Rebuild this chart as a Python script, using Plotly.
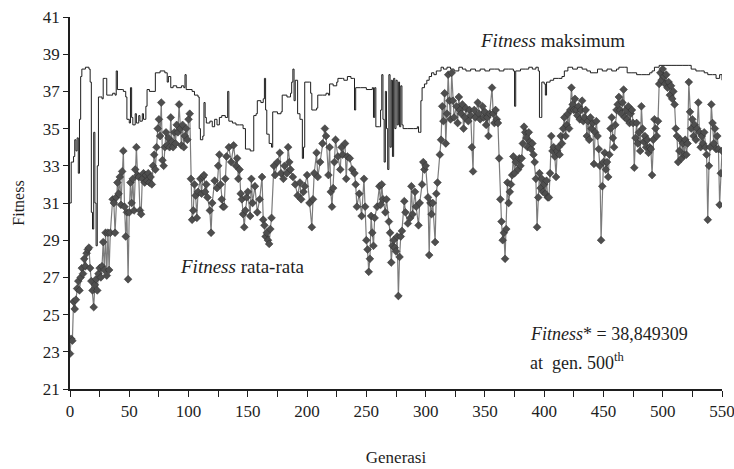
import plotly.graph_objects as go

# Generation numbers and fitness values (average fitness, with markers)
avg_gen = [
    0, 1, 2, 3, 4, 5, 6, 7, 8, 9,
    10, 11, 12, 13, 14, 15, 16, 17, 18, 19,
    20, 21, 22, 23, 24, 25, 26, 27, 28, 29,
    30, 31, 32, 33, 34, 36, 37, 38, 39, 40,
    41, 42, 43, 44, 45, 46, 47, 48, 49, 50,
    51, 52, 53, 54, 55, 56, 57, 58, 59, 60,
    61, 62, 63, 64, 65, 66, 67, 68, 69, 70,
    71, 72, 73, 74, 75, 76, 77, 78, 79, 80,
    81, 82, 83, 84, 85, 86, 87, 88, 89, 90,
    91, 92, 93, 94, 95, 96, 97, 98, 99, 100,
    101, 102, 103, 104, 105, 106, 107, 108, 110, 111,
    112, 113, 114, 115, 116, 118, 119, 120, 122, 124,
    125, 126, 127, 128, 129, 130, 131, 132, 134, 136,
    138, 140, 141, 142, 143, 144, 145, 146, 147, 148,
    149, 150, 152, 153, 154, 156, 158, 160, 162, 163,
    164, 165, 166, 167, 168, 169, 170, 172, 173, 175,
    177, 178, 180, 181, 183, 184, 185, 186, 188, 190,
    192, 194, 195, 197, 198, 200, 202, 204, 205, 206,
    208, 209, 211, 213, 215, 216, 218, 219, 220, 221,
    222, 223, 224, 226, 228, 229, 230, 232, 233, 234,
    236, 238, 240, 241, 242, 244, 246, 248, 249, 250,
    251, 252, 253, 254, 255, 256, 257, 259, 261, 262,
    263, 264, 266, 267, 269, 270, 271, 272, 273, 274,
    275, 276, 277, 278, 279, 280, 282, 283, 285, 287,
    288, 289, 291, 292, 294, 295, 297, 298, 299, 300,
    302, 303, 304, 305, 306, 308, 309, 310, 312, 313,
    314, 315, 316, 317, 318, 319, 320, 321, 322, 323,
    324, 326, 327, 328, 329, 330, 331, 332, 333, 334,
    336, 337, 338, 339, 340, 341, 342, 344, 345, 346,
    348, 349, 350, 351, 352, 353, 354, 356, 357, 358,
    359, 360, 361, 362, 363, 364, 365, 366, 367, 368,
    369, 370, 371, 372, 373, 374, 375, 376, 378, 379,
    380, 381, 382, 383, 384, 385, 386, 387, 388, 389,
    390, 391, 392, 393, 394, 395, 396, 397, 398, 399,
    400, 401, 402, 403, 404, 405, 406, 407, 408, 409,
    410, 411, 412, 413, 414, 415, 416, 417, 418, 419,
    420, 421, 422, 423, 424, 425, 426, 427, 428, 429,
    430, 431, 432, 433, 434, 435, 436, 437, 438, 439,
    440, 441, 442, 443, 444, 445, 446, 447, 448, 449,
    450, 451, 452, 453, 454, 455, 456, 457, 458, 459,
    460, 461, 462, 463, 464, 465, 466, 467, 468, 469,
    470, 471, 472, 473, 474, 475, 476, 477, 478, 479,
    480, 481, 482, 483, 484, 485, 486, 487, 488, 489,
    490, 491, 492, 493, 494, 495, 496, 497, 498, 499,
    500, 501, 502, 503, 504, 505, 506, 507, 508, 509,
    510, 511, 512, 513, 514, 515, 516, 517, 518, 519,
    520, 521, 522, 523, 524, 525, 526, 527, 528, 529,
    530, 531, 532, 533, 534, 535, 536, 537, 538, 539,
    540, 541, 542, 543, 544, 545, 546, 547, 548, 549, 550,
]
avg_fit = [
    22.9, 23.7, 23.6, 25.7, 25.3, 25.8, 26.4, 26.8, 26.3, 27.0,
    27.5, 27.2, 28.0, 27.6, 28.3, 28.5, 28.6, 27.5, 26.8, 26.3,
    25.4, 26.6, 26.9, 26.3, 27.2, 27.5, 27.0, 27.6, 28.9, 27.4,
    29.4, 27.1, 29.4, 27.4, 29.4, 31.2, 31.0, 29.4, 31.3, 32.1,
    31.5, 32.4, 30.9, 32.7, 33.8, 30.8, 29.2, 30.5, 26.9, 30.5,
    32.1, 31.0, 32.3, 30.6, 32.8, 34.0, 32.5, 32.4, 30.6, 30.4,
    32.3, 32.6, 32.1, 32.5, 32.2, 32.6, 32.1, 32.4, 32.0, 33.0,
    33.6, 32.8, 34.0, 35.0, 35.5, 34.6, 36.4, 33.3, 33.0, 34.0,
    34.8, 34.1, 34.5, 34.0, 35.6, 34.3, 34.0, 34.8, 34.2, 35.2,
    34.8, 36.3, 35.0, 34.1, 35.2, 34.0, 34.6, 35.0, 34.4, 35.5,
    35.8, 32.3, 30.1, 30.6, 32.0, 31.4, 30.2, 31.6, 32.3, 31.5,
    32.4, 32.5, 31.6, 32.0, 31.3, 30.6, 29.4, 31.0, 32.2, 31.8,
    33.0, 33.6, 32.0, 31.2, 30.8, 30.8, 32.3, 33.5, 34.0, 33.2,
    34.1, 33.0, 33.4, 32.3, 32.8, 31.5, 31.2, 30.4, 29.7, 30.6,
    31.3, 31.6, 30.3, 32.3, 31.0, 31.9, 30.5, 31.2, 32.4, 30.1,
    29.8, 29.2, 29.4, 29.0, 28.8, 29.6, 30.2, 33.0, 32.5, 33.2,
    33.7, 32.6, 32.3, 33.0, 32.6, 34.0, 33.2, 32.8, 32.4, 32.0,
    31.4, 32.1, 31.2, 31.6, 31.9, 32.5, 31.0, 29.7, 31.2, 32.6,
    33.7, 32.4, 33.2, 34.2, 35.0, 34.6, 32.5, 34.0, 31.6, 30.8,
    31.8, 33.2, 34.4, 33.5, 32.8, 34.0, 33.6, 34.2, 32.3, 33.5,
    33.4, 32.8, 32.6, 32.0, 30.8, 31.5, 30.3, 32.3, 30.8, 29.0,
    28.5, 27.3, 28.0, 30.3, 29.4, 28.7, 30.2, 30.8, 31.9, 30.9,
    32.0, 31.2, 30.5, 31.2, 30.0, 29.4, 27.8, 28.7, 29.0, 28.6,
    28.4, 29.2, 26.0, 28.1, 29.2, 29.5, 31.1, 30.5, 29.9, 30.2,
    31.9, 30.4, 31.6, 30.8, 29.8, 31.0, 32.0, 33.2, 32.8, 33.0,
    31.3, 28.2, 31.0, 30.4, 31.0, 28.9, 31.5, 32.1, 33.6, 34.4,
    36.2, 35.4, 36.9, 34.2, 35.8, 37.9, 36.5, 35.5, 38.0, 36.5,
    35.6, 36.2, 35.3, 36.7, 36.0, 35.8, 36.3, 35.0, 35.6, 36.1,
    35.4, 36.0, 35.7, 34.0, 32.7, 36.0, 35.6, 36.4, 35.8, 35.5,
    36.2, 35.6, 35.9, 35.2, 35.6, 34.6, 35.8, 37.2, 35.8, 35.3,
    36.0, 35.5, 35.3, 33.4, 31.2, 30.0, 29.0, 29.4, 28.0, 29.6,
    32.1, 31.0, 31.6, 32.0, 32.5, 33.5, 32.6, 33.2, 32.8, 33.4,
    33.0, 33.4, 34.2, 35.1, 34.8, 34.5, 34.0, 34.8, 34.3, 33.9,
    34.2, 33.6, 33.2, 32.3, 29.7, 31.3, 32.6, 31.8, 32.3, 31.6,
    32.0, 31.5, 32.2, 31.3, 31.3, 32.6, 34.6, 33.8, 34.0, 33.5,
    32.4, 33.8, 34.0, 33.6, 34.6, 34.2, 35.0, 35.6, 34.6, 35.2,
    35.8, 35.0, 36.0, 37.2, 36.3, 36.0, 36.6, 36.0, 35.7, 36.2,
    35.5, 36.0, 36.5, 35.4, 35.6, 36.0, 34.6, 35.4, 34.4, 35.6,
    35.0, 35.3, 33.1, 34.8, 35.4, 34.6, 33.9, 33.0, 29.0, 31.9,
    33.2, 33.7, 32.8, 33.2, 32.4, 33.6, 35.0, 35.6, 34.5, 34.0,
    35.2, 36.0, 36.3, 36.7, 36.0, 35.8, 36.4, 37.1, 35.6, 36.0,
    35.5, 36.2, 35.3, 35.8, 36.0, 35.3, 32.9, 34.5, 35.3, 34.2,
    34.8, 33.8, 36.2, 35.0, 34.3, 34.6, 34.0, 34.4, 33.7, 34.0,
    33.9, 32.5, 34.4, 35.5, 35.0, 34.6, 35.4, 37.4, 38.0, 37.6,
    38.2, 37.8, 37.4, 37.9, 37.2, 37.5, 36.8, 37.3, 36.6, 37.0,
    36.3, 35.0, 34.6, 33.2, 33.8, 34.4, 33.4, 34.2, 33.6, 34.4,
    33.6, 34.2, 37.5, 35.9, 35.0, 35.5, 34.6, 35.2, 34.4, 35.0,
    36.4, 34.8, 34.0, 34.6, 34.2, 34.8, 34.0, 33.6, 30.1, 33.0,
    34.0, 36.3, 35.3, 34.2, 35.0, 33.9, 34.6, 33.9, 30.9, 32.6, 33.8,
]

# Best fitness per generation (drawn as a step line)
max_gen = [
    0, 1, 3, 4, 5, 6, 7, 8, 9, 10,
    13, 16, 17, 18, 19, 20, 21, 22, 23, 24,
    26, 27, 28, 30, 31, 34, 36, 38, 39, 40,
    44, 45, 47, 48, 50, 51, 52, 53, 55, 56,
    58, 59, 61, 62, 64, 65, 67, 70, 72, 76,
    80, 82, 83, 85, 87, 90, 94, 96, 97, 98,
    103, 105, 108, 109, 110, 112, 113, 114, 115, 118,
    120, 122, 124, 126, 128, 131, 133, 134, 137, 140,
    143, 146, 148, 152, 154, 155, 157, 158, 161, 163,
    164, 165, 166, 168, 170, 171, 175, 178, 179, 183,
    186, 187, 188, 189, 190, 192, 194, 196, 197, 198,
    202, 203, 204, 208, 209, 213, 216, 218, 219, 222,
    225, 226, 230, 231, 234, 237, 239, 240, 241, 245,
    250, 255, 256, 257, 258, 261, 262, 263, 264, 265,
    266, 267, 268, 269, 270, 271, 272, 273, 274, 275,
    276, 277, 278, 279, 280, 281, 285, 290, 293, 294,
    295, 296, 297, 299, 301, 303, 305, 307, 309, 311,
    313, 315, 318, 321, 324, 328, 331, 334, 338, 342,
    346, 350, 354, 358, 362, 366, 370, 374, 375, 376,
    380, 384, 387, 390, 393, 395, 396, 397, 398, 400,
    401, 402, 405, 408, 412, 415, 417, 420, 424, 428,
    432, 436, 439, 442, 445, 449, 453, 457, 461, 463,
    468, 470, 474, 478, 482, 486, 489, 491, 493, 497,
    502, 507, 512, 517, 522, 524, 528, 532, 535, 538,
    542, 545, 548, 550,
]
max_fit = [
    31.0, 33.2, 33.5, 34.4, 33.8, 34.5, 32.6, 35.5, 37.8, 38.2,
    38.3, 38.2, 37.5, 30.5, 29.6, 34.8, 31.0, 28.7, 33.0, 36.7,
    36.7, 36.6, 37.7, 37.7, 36.8, 36.8, 36.9, 36.8, 38.1, 37.1,
    37.1, 37.0, 36.7, 35.5, 35.3, 37.2, 35.6, 35.2, 35.8, 35.3,
    35.7, 35.4, 35.8, 35.5, 36.2, 37.1, 37.0, 37.0, 38.0, 38.1,
    38.0, 37.5, 37.8, 37.2, 37.3, 37.2, 37.3, 37.2, 37.9, 37.1,
    37.0, 36.8, 36.7, 35.0, 34.4, 34.6, 36.4, 35.6, 35.3, 35.4,
    35.1, 35.5, 35.2, 35.6, 35.7, 35.6, 37.0, 35.4, 35.3, 35.2,
    35.2, 35.0, 33.9, 33.8, 33.8, 35.7, 35.8, 36.5, 36.4, 36.6,
    37.7, 36.0, 34.7, 34.2, 34.0, 35.9, 35.8, 35.9, 36.8, 36.7,
    36.9, 37.5, 38.2, 36.5, 37.6, 35.8, 35.5, 33.4, 34.0, 37.5,
    37.5, 36.9, 36.0, 36.1, 36.8, 36.8, 36.9, 36.8, 37.4, 37.3,
    37.5, 37.7, 37.7, 37.6, 37.8, 37.7, 37.7, 36.0, 37.2, 37.2,
    37.1, 37.2, 35.6, 37.2, 35.1, 35.1, 36.0, 37.9, 35.5, 33.2,
    37.0, 35.0, 32.8, 37.9, 34.0, 37.6, 33.5, 37.7, 35.0, 37.6,
    35.2, 37.5, 35.1, 37.3, 35.2, 35.0, 35.0, 35.0, 35.1, 34.8,
    34.8, 36.5, 37.2, 37.4, 37.6, 37.8, 38.0, 37.9, 38.1, 38.1,
    38.3, 38.2, 38.3, 38.2, 38.1, 38.3, 38.2, 38.1, 38.2, 38.1,
    38.2, 38.1, 38.2, 38.2, 38.1, 38.2, 38.2, 38.1, 36.2, 38.1,
    38.2, 38.2, 38.3, 38.2, 38.3, 38.1, 35.6, 35.6, 37.5, 37.4,
    36.8, 37.5, 37.6, 37.7, 37.7, 37.8, 38.1, 38.3, 38.2, 38.3,
    38.2, 38.1, 38.0, 38.0, 38.2, 38.1, 38.2, 38.1, 38.2, 38.3,
    38.3, 38.0, 38.0, 37.9, 37.9, 37.9, 38.0, 38.1, 38.3, 38.4,
    38.4, 38.4, 38.4, 38.4, 38.4, 38.2, 38.1, 38.1, 38.0, 37.9,
    37.9, 37.7, 37.9, 37.6,
]

assert len(avg_gen) == len(avg_fit), (len(avg_gen), len(avg_fit))
assert len(max_gen) == len(max_fit), (len(max_gen), len(max_fit))

x_ticks = list(range(0, 551, 50))
y_ticks = list(range(21, 42, 2))

SERIF = "Liberation Serif, Times New Roman, serif"
INK = "#1e1e1e"

fig = go.Figure()

fig.add_trace(go.Scatter(
    x=max_gen, y=max_fit, mode="lines",
    line=dict(color=INK, width=1, shape="hv"),
    name="Fitness maksimum", hoverinfo="x+y",
))

fig.add_trace(go.Scatter(
    x=avg_gen, y=avg_fit, mode="lines+markers",
    line=dict(color="#7c7c7c", width=1.2),
    marker=dict(symbol="diamond", size=6, color="#4e4e4e",
                line=dict(color="#2e2e2e", width=0.5)),
    name="Fitness rata-rata", hoverinfo="x+y",
))

fig.update_layout(
    width=734, height=469,
    margin=dict(l=70, r=12, t=17, b=80),
    paper_bgcolor="white", plot_bgcolor="white",
    showlegend=False,
    font=dict(family=SERIF, size=17, color=INK),
    xaxis=dict(
        range=[0, 550], tickmode="array", tickvals=x_ticks,
        ticks="outside", ticklen=6, tickwidth=1, tickcolor=INK,
        minor=dict(dtick=25, tick0=0, ticks="outside", ticklen=6, tickcolor=INK),
        showline=True, linecolor=INK, linewidth=1.5,
        showgrid=False, zeroline=False, automargin=False,
        ticklabeloverflow="allow",
        tickfont=dict(family=SERIF, size=17, color=INK),
        title=dict(text="Generasi", font=dict(family=SERIF, size=17, color=INK), standoff=31),
    ),
    yaxis=dict(
        range=[21, 41], tickmode="array", tickvals=y_ticks,
        ticks="outside", ticklen=5, tickwidth=1, tickcolor=INK,
        showline=True, linecolor=INK, linewidth=1.5,
        showgrid=False, zeroline=False, automargin=False,
        ticklabeloverflow="allow",
        tickfont=dict(family=SERIF, size=17, color=INK),
        title=dict(text="Fitness", font=dict(family=SERIF, size=16, color=INK), standoff=14),
    ),
)

fig.add_annotation(x=344, y=39.75, xref="x", yref="y", xanchor="left", yanchor="middle",
                   text="<i>Fitness</i> maksimum", showarrow=False,
                   font=dict(family=SERIF, size=19, color=INK))
fig.add_annotation(x=91, y=27.6, xref="x", yref="y", xanchor="left", yanchor="middle",
                   text="<i>Fitness</i> rata-rata", showarrow=False,
                   font=dict(family=SERIF, size=19, color=INK))
fig.add_annotation(x=386, y=23.95, xref="x", yref="y", xanchor="left", yanchor="middle",
                   text="<i>Fitness</i>* = 38,849309", showarrow=False,
                   font=dict(family=SERIF, size=18, color=INK))
fig.add_annotation(x=386, y=22.5, xref="x", yref="y", xanchor="left", yanchor="middle",
                   text="at  gen. 500<sup>th</sup>", showarrow=False,
                   font=dict(family=SERIF, size=18, color=INK))

fig.write_html("out.html")
